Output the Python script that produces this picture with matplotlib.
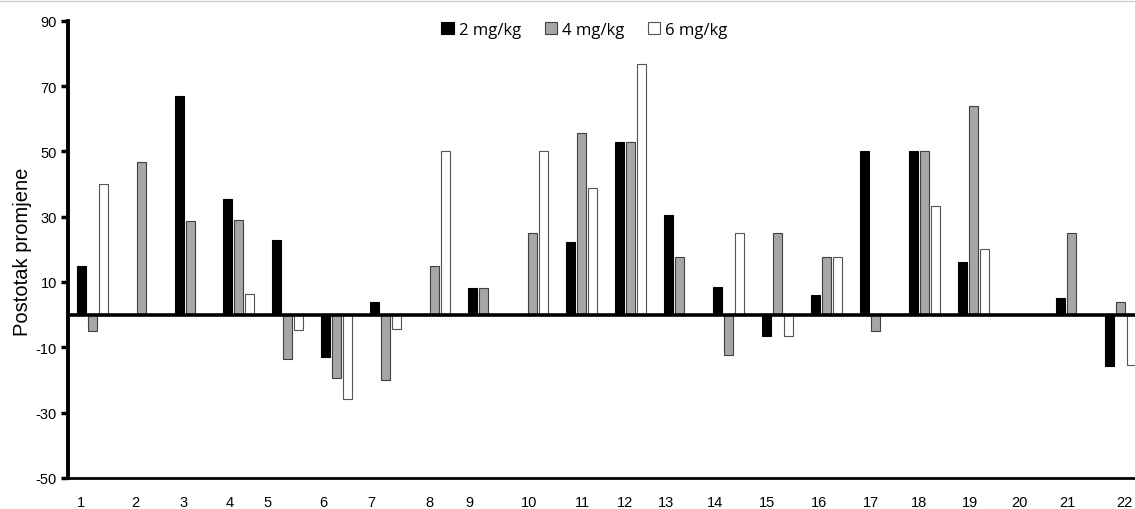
import numpy as np
import matplotlib.pyplot as plt
from matplotlib.lines import Line2D

# Data
groups = [str(i) for i in range(1, 23)]
dose_2 = [15, 0, 67, 35.5, 23, -13, 4, 0, 8.2, 0, 22.3, 52.8, 30.5, 8.5, -6.4, 6, 50, 50, 16.1, 0, 5, -15.6]
dose_4 = [-5, 46.7, 28.7, 29, -13.6, -19.3, -20, 15, 8.2, 25, 55.7, 52.8, 17.6, -12.5, 25, 17.6, -5, 50, 64, 0, 25, 3.8]
dose_6 = [40, 0, 0, 6.3, -4.6, -25.9, -4.3, 50, 0, 50, 38.8, 76.7, 0, 25, -6.4, 17.6, 0, 33.4, 20, 0, 0, -15.3]
series_names = ['2 mg/kg', '4 mg/kg', '6 mg/kg']

# label positions are a bit off-centre in the original
label_pos = [-0.23, 0.89, 1.86, 2.82, 3.59, 4.73, 5.71, 6.90, 7.71, 8.93, 10.02,
             10.89, 11.73, 12.73, 13.79, 14.85, 15.90, 16.88, 17.93, 18.94, 19.92, 21.08]

plt.rcParams['axes.unicode_minus'] = False
narrow = ['Liberation Sans Narrow', 'Liberation Sans', 'DejaVu Sans']

fig = plt.figure(figsize=(11.35, 5.1), dpi=100)
ax = fig.add_axes([0.06, 0.0608, 0.94, 0.8967])

x = np.arange(len(groups))
w = 0.184
step = 0.2245
ax.bar(x - step, dose_2, w, color='black', edgecolor='black', linewidth=0.8, label=series_names[0], zorder=2)
ax.bar(x, dose_4, w, color='#a6a6a6', edgecolor='#404040', linewidth=0.8, label=series_names[1], zorder=2)
ax.bar(x + step, dose_6, w, color='white', edgecolor='#555555', linewidth=0.8, label=series_names[2], zorder=2)

ax.axhline(0, color='black', linewidth=2.6, zorder=3)

ax.set_xlim(-0.49, 21.3)
ax.set_ylim(-50, 90)
ax.set_yticks(np.arange(-50, 91, 20))
ax.set_xticks(label_pos)
ax.set_xticklabels(groups, family=narrow, fontsize=10.5)
for t in ax.get_yticklabels():
    t.set_family(narrow)
    t.set_fontsize(10.5)

ax.tick_params(axis='y', length=5, width=2.5, pad=3)
ax.tick_params(axis='x', length=0, pad=12)

ax.spines['top'].set_visible(False)
ax.spines['right'].set_visible(False)
ax.spines['left'].set_linewidth(2.8)
ax.spines['bottom'].set_linewidth(2)

fig.text(0.02, 0.506, 'Postotak promjene', rotation=90, ha='center', va='center',
         fontsize=14.5, family=['Liberation Sans', 'DejaVu Sans'])

fig.legend(loc='center', bbox_to_anchor=(0.515, 0.94), ncol=3, frameon=False,
           handlelength=0.75, handleheight=0.75, handletextpad=0.3, columnspacing=1.4,
           prop={'family': ['Open Sans', 'DejaVu Sans'], 'size': 12})

# thin grey border line at the top, as in the source screenshot
fig.add_artist(Line2D([0, 1], [0.996, 0.996], color='#d0d0d0', linewidth=1, transform=fig.transFigure))

fig.savefig('out.png', dpi=100)
